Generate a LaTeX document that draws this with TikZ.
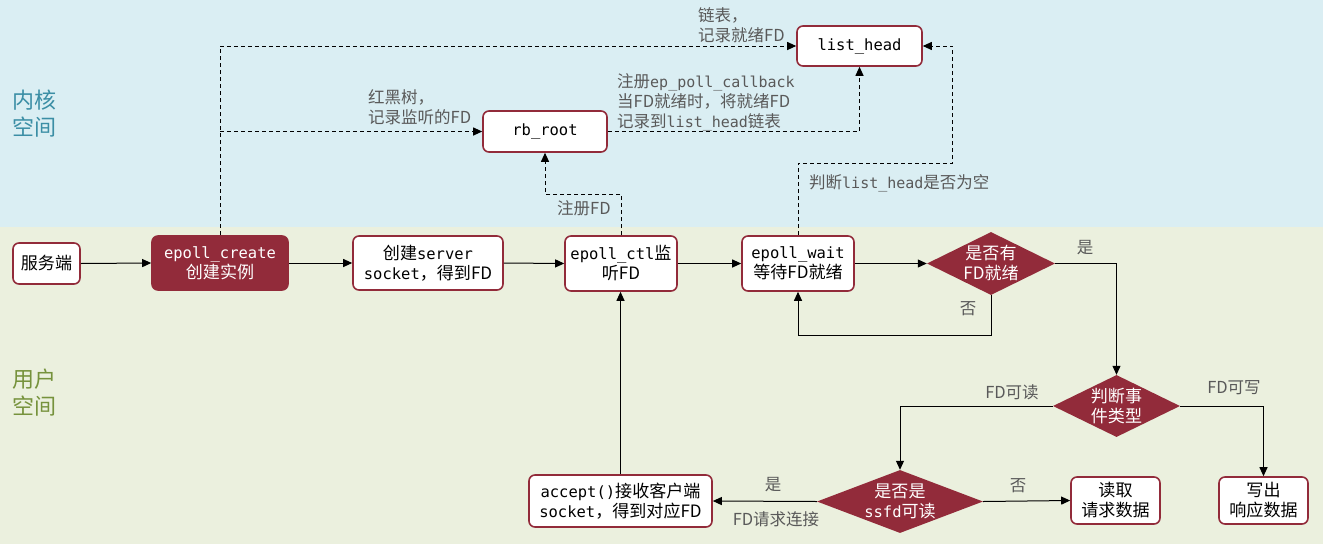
\documentclass[tikz,border=0pt]{standalone}
\usepackage{fontspec}
\setmainfont[Scale=1.1]{Noto Sans CJK SC}
\newfontfamily\cjk[Scale=1.1]{Noto Sans CJK SC}
\newfontfamily\mono{DejaVu Sans Mono}
\usetikzlibrary{arrows.meta,shapes.geometric}
\definecolor{boxred}{HTML}{922B3A}
\definecolor{kbg}{HTML}{DAEEF3}
\definecolor{ubg}{HTML}{EBF0DE}
\definecolor{lblgray}{HTML}{595959}
\definecolor{kern}{HTML}{3B8EA5}
\definecolor{usr}{HTML}{76923C}
\newcommand\codetxt[1]{{\mono #1}}
\newcommand\boxfont{\fontsize{15.5}{20}\selectfont}
\newcommand\lblfont{\fontsize{15}{20}\selectfont}
\newcommand\bigfont{\fontsize{20}{27}\selectfont}
\tikzset{
  stepbox/.style={draw=boxred, line width=1.6pt, fill=white, rounded corners=6pt,
    align=center, inner sep=0pt, font=\boxfont},
  darkbox/.style={stepbox, fill=boxred, text=white},
  dia/.style={diamond, fill=boxred, draw=none, inner sep=0pt},
  diatext/.style={text=white, align=center, inner sep=0pt, font=\boxfont},
  lbl/.style={text=lblgray, align=left, inner sep=0pt, font=\lblfont},
  ar/.style={-{Triangle[length=9pt,width=8pt]}, line width=1pt},
  dsh/.style={ar, dash pattern=on 4pt off 3pt},
}
\begin{document}
\begin{tikzpicture}[x=1pt,y=-1pt]
\useasboundingbox (0,0) rectangle (1323,544);
\fill[kbg] (0,0) rectangle (1323,227);
\fill[ubg] (0,227) rectangle (1323,544);

\node[anchor=west, text=kern, align=left, inner sep=0pt, font=\bigfont] (kt) at (12,113.5) {内核\\空间};
\node[anchor=west, text=usr, align=left, inner sep=0pt, font=\bigfont] (ut) at (12,392.5) {用户\\空间};

% nodes
\node[stepbox, minimum width=67pt, minimum height=41pt] (sv) at (46.5,263.5) {服务端};
\node[darkbox, minimum width=136pt, minimum height=54pt] (ec) at (220,263) {\codetxt{epoll\_create}\\创建实例};
\node[stepbox, minimum width=150pt, minimum height=54pt] (srv) at (428,263) {创建\codetxt{server}\\\codetxt{socket}，得到FD};
\node[stepbox, minimum width=112pt, minimum height=55pt] (ctl) at (621,263.5) {\codetxt{epoll\_ctl}监\\听FD};
\node[stepbox, minimum width=112pt, minimum height=55pt] (ew) at (798,263.5) {\codetxt{epoll\_wait}\\等待FD就绪};
\node[stepbox, minimum width=183pt, minimum height=52pt] (acc) at (620.5,501) {\codetxt{accept()}接收客户端\\\codetxt{socket}，得到对应FD};
\node[stepbox, minimum width=89pt, minimum height=47pt] (rd) at (1115.5,500.5) {读取\\请求数据};
\node[stepbox, minimum width=89pt, minimum height=47pt] (wr) at (1263.5,500.5) {写出\\响应数据};
\node[stepbox, minimum width=124pt, minimum height=41pt] (rb) at (545,131.5) {\codetxt{rb\_root}};
\node[stepbox, minimum width=125pt, minimum height=40pt] (lh) at (859.5,46) {\codetxt{list\_head}};

\node[dia, minimum width=128pt, minimum height=63pt] (d1) at (991,263.5) {};
\node[diatext] (d1t) at (d1) {是否有\\FD就绪};
\node[dia, minimum width=127pt, minimum height=62pt] (d2) at (1116.5,406) {};
\node[diatext] (d2t) at (d2) {判断事\\件类型};
\node[dia, minimum width=166pt, minimum height=63pt] (d3) at (900,501.5) {};
\node[diatext] (d3t) at (d3) {是否是\\\codetxt{ssfd}可读};

% solid connectors
\draw[ar] (sv.east) -- (ec.west);
\draw[ar] (ec.east) -- (srv.west);
\draw[ar] (srv.east) -- (ctl.west);
\draw[ar] (ctl.east) -- (ew.west);
\draw[ar] (ew.east) -- (d1.west);
\draw[ar] (d1.south) -- ++(0,40) -| (ew.south);
\draw[ar] (d1.east) -| (d2.north);
\draw[ar] (d2.west) -| (d3.north);
\draw[ar] (d2.east) -| (wr.north);
\draw[ar] (d3.west) -- (acc.east);
\draw[ar] (d3.east) -- (rd.west);
\draw[ar] (acc.north) -- (acc.north |- ctl.south);

% dashed connectors
\draw[dsh] (ec.north) |- (lh.west);
\draw[dsh] (ec.north |- rb.west) -- (rb.west);
\draw[dsh] (ctl.north) -- ++(0,-41) -| (rb.south);
\draw[dsh] (rb.east) -| (lh.south);
\draw[dsh] (ew.north) -- ++(0,-72) -| ([xshift=30pt]lh.east) -- (lh.east);

% labels
\node[lbl, anchor=west] (l1) at (698,25.5) {链表，\\记录就绪FD};
\node[lbl, anchor=west] (l2) at (368,107) {红黑树，\\记录监听的FD};
\node[lbl, anchor=west] (l3) at (617,102) {注册\codetxt{ep\_poll\_callback}\\当FD就绪时，将就绪FD\\记录到\codetxt{list\_head}链表};
\node[lbl, anchor=west] (l4) at (557,208) {注册FD};
\node[lbl, anchor=west] (l5) at (809,183) {判断\codetxt{list\_head}是否为空};
\node[lbl] (l6) at (968,309) {否};
\node[lbl] (l7) at (1085,248) {是};
\node[lbl] (l8) at (1012,392) {FD可读};
\node[lbl] (l9) at (1234,388) {FD可写};
\node[lbl] (l10) at (773,485) {是};
\node[lbl] (l11) at (776,519) {FD请求连接};
\node[lbl] (l12) at (1018,486) {否};
\end{tikzpicture}
\end{document}
